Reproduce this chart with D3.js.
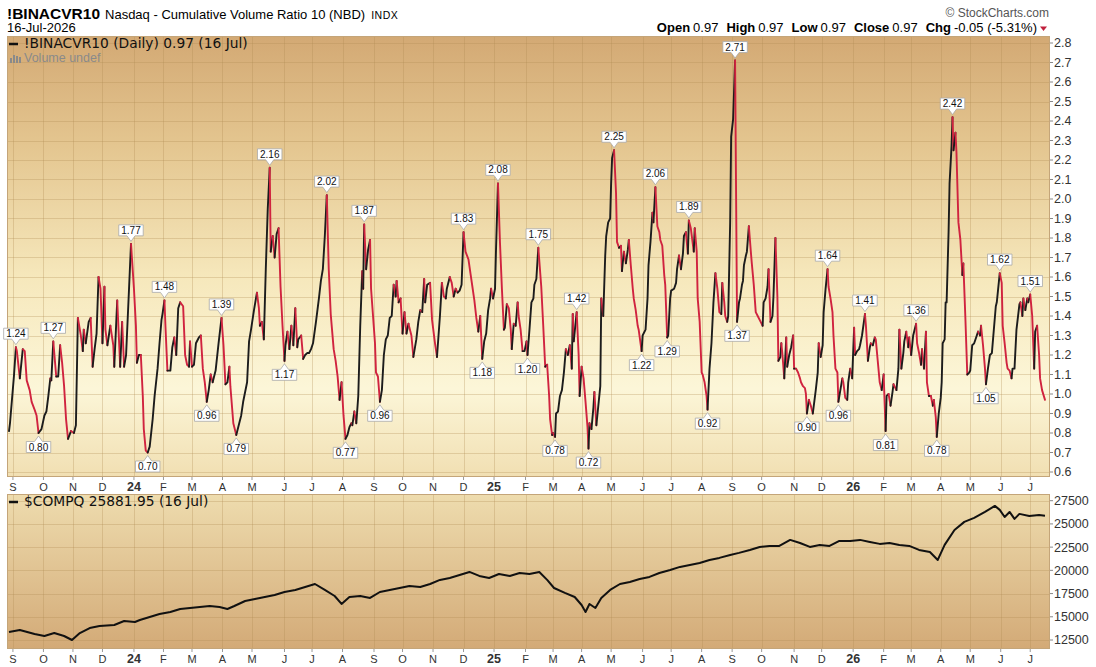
<!DOCTYPE html>
<html>
<head>
<meta charset="utf-8">
<script src="https://cdn.jsdelivr.net/npm/d3@7"></script>
<style>
  body { margin: 0; background: #fff; }
  svg { display: block; font-family: "Liberation Sans", Arial, sans-serif; }
</style>
</head>
<body>
<svg id="chart" width="1096" height="667"></svg>
<script>
// !BINACVR10 daily closes
var cvrSeries = [
  ["2023-08-28",0.81],["2023-08-29",0.85],["2023-09-02",1.09],["2023-09-04",1.24],["2023-09-05",1.22],
  ["2023-09-08",1.08],["2023-09-11",1.23],["2023-09-13",1.22],["2023-09-15",1.07],["2023-09-18",1.02],
  ["2023-09-20",0.96],["2023-09-23",0.92],["2023-09-25",0.89],["2023-09-27",0.80],["2023-09-30",0.82],
  ["2023-10-03",0.89],["2023-10-05",0.91],["2023-10-07",0.99],["2023-10-09",1.08],["2023-10-10",1.07],
  ["2023-10-12",1.27],["2023-10-15",1.09],["2023-10-17",1.09],["2023-10-19",1.25],["2023-10-21",1.16],
  ["2023-10-23",1.04],["2023-10-25",0.87],["2023-10-27",0.77],["2023-10-30",0.81],["2023-11-02",0.80],
  ["2023-11-04",0.84],["2023-11-06",1.39],["2023-11-09",1.30],["2023-11-11",1.22],["2023-11-12",1.33],
  ["2023-11-14",1.26],["2023-11-17",1.37],["2023-11-19",1.39],["2023-11-21",1.14],["2023-11-23",1.23],
  ["2023-11-25",1.31],["2023-11-27",1.60],["2023-11-29",1.54],["2023-12-01",1.26],["2023-12-03",1.55],
  ["2023-12-04",1.33],["2023-12-06",1.25],["2023-12-09",1.35],["2023-12-12",1.25],["2023-12-13",1.14],
  ["2023-12-16",1.48],["2023-12-19",1.14],["2023-12-21",1.37],["2023-12-23",1.14],["2023-12-25",1.20],
  ["2023-12-28",1.54],["2023-12-30",1.77],["2024-01-02",1.54],["2024-01-04",1.35],["2024-01-05",1.16],
  ["2024-01-07",1.20],["2024-01-09",1.20],["2024-01-11",0.99],["2024-01-12",0.82],["2024-01-14",0.71],
  ["2024-01-16",0.70],["2024-01-18",0.73],["2024-01-21",0.87],["2024-01-23",0.99],["2024-01-26",1.13],
  ["2024-01-28",1.26],["2024-01-30",1.38],["2024-01-31",1.41],["2024-02-02",1.48],["2024-02-03",1.35],
  ["2024-02-05",1.12],["2024-02-08",1.12],["2024-02-10",1.24],["2024-02-12",1.29],["2024-02-14",1.20],
  ["2024-02-16",1.44],["2024-02-18",1.47],["2024-02-21",1.45],["2024-02-23",1.20],["2024-02-25",1.15],
  ["2024-02-27",1.14],["2024-02-28",1.27],["2024-03-01",1.14],["2024-03-03",1.15],["2024-03-05",1.26],
  ["2024-03-08",1.29],["2024-03-10",1.30],["2024-03-12",1.13],["2024-03-14",1.06],["2024-03-16",0.96],
  ["2024-03-18",1.02],["2024-03-20",1.10],["2024-03-22",1.06],["2024-03-25",1.12],["2024-03-28",1.26],
  ["2024-03-31",1.39],["2024-04-02",1.25],["2024-04-04",1.05],["2024-04-06",1.06],["2024-04-08",1.14],
  ["2024-04-09",1.04],["2024-04-12",0.85],["2024-04-15",0.79],["2024-04-18",0.85],["2024-04-20",0.89],
  ["2024-04-22",0.96],["2024-04-24",1.01],["2024-04-26",1.06],["2024-04-28",1.27],["2024-04-30",1.33],
  ["2024-05-03",1.43],["2024-05-06",1.52],["2024-05-08",1.44],["2024-05-09",1.35],["2024-05-11",1.37],
  ["2024-05-13",1.28],["2024-05-15",1.64],["2024-05-17",1.95],["2024-05-19",2.16],["2024-05-20",1.73],
  ["2024-05-22",1.81],["2024-05-24",1.70],["2024-05-26",1.82],["2024-05-28",1.85],["2024-05-30",1.55],
  ["2024-06-01",1.35],["2024-06-03",1.17],["2024-06-04",1.25],["2024-06-06",1.32],["2024-06-08",1.23],
  ["2024-06-10",1.35],["2024-06-12",1.25],["2024-06-14",1.44],["2024-06-16",1.24],["2024-06-17",1.28],
  ["2024-06-20",1.30],["2024-06-22",1.18],["2024-06-24",1.20],["2024-06-26",1.21],["2024-06-28",1.21],
  ["2024-06-30",1.23],["2024-07-02",1.26],["2024-07-05",1.37],["2024-07-08",1.49],["2024-07-10",1.58],
  ["2024-07-12",1.64],["2024-07-14",1.81],["2024-07-16",2.02],["2024-07-18",1.64],["2024-07-20",1.41],
  ["2024-07-23",1.23],["2024-07-25",1.17],["2024-07-27",1.09],["2024-07-29",0.97],["2024-07-31",1.06],
  ["2024-08-02",0.89],["2024-08-04",0.77],["2024-08-06",0.79],["2024-08-08",0.83],["2024-08-10",0.85],
  ["2024-08-11",0.84],["2024-08-13",0.91],["2024-08-15",0.85],["2024-08-17",0.99],["2024-08-19",1.35],
  ["2024-08-21",1.63],["2024-08-22",1.54],["2024-08-23",1.87],["2024-08-25",1.64],["2024-08-27",1.74],
  ["2024-08-29",1.79],["2024-08-30",1.54],["2024-09-01",1.40],["2024-09-03",1.26],["2024-09-04",1.11],
  ["2024-09-06",1.09],["2024-09-08",0.96],["2024-09-10",1.02],["2024-09-12",1.20],["2024-09-14",1.28],
  ["2024-09-16",1.30],["2024-09-18",1.39],["2024-09-20",1.40],["2024-09-22",1.56],["2024-09-24",1.50],
  ["2024-09-25",1.58],["2024-09-27",1.47],["2024-09-29",1.49],["2024-10-01",1.31],["2024-10-03",1.42],
  ["2024-10-05",1.31],["2024-10-07",1.36],["2024-10-10",1.30],["2024-10-12",1.19],["2024-10-15",1.28],
  ["2024-10-17",1.37],["2024-10-19",1.43],["2024-10-21",1.42],["2024-10-23",1.59],["2024-10-24",1.47],
  ["2024-10-26",1.56],["2024-10-29",1.57],["2024-10-31",1.38],["2024-11-03",1.26],["2024-11-05",1.19],
  ["2024-11-08",1.40],["2024-11-10",1.57],["2024-11-12",1.50],["2024-11-14",1.49],["2024-11-15",1.54],
  ["2024-11-18",1.60],["2024-11-20",1.57],["2024-11-22",1.50],["2024-11-24",1.54],["2024-11-26",1.52],
  ["2024-11-28",1.53],["2024-11-30",1.56],["2024-12-02",1.83],["2024-12-04",1.73],["2024-12-07",1.69],
  ["2024-12-09",1.62],["2024-12-11",1.55],["2024-12-13",1.48],["2024-12-15",1.39],["2024-12-17",1.32],
  ["2024-12-19",1.40],["2024-12-21",1.18],["2024-12-23",1.27],["2024-12-25",1.31],["2024-12-27",1.43],
  ["2024-12-29",1.49],["2024-12-30",1.54],["2025-01-01",1.49],["2025-01-03",1.54],["2025-01-04",1.74],
  ["2025-01-06",2.08],["2025-01-08",1.78],["2025-01-10",1.54],["2025-01-12",1.33],["2025-01-13",1.34],
  ["2025-01-15",1.46],["2025-01-17",1.44],["2025-01-19",1.33],["2025-01-20",1.23],["2025-01-22",1.36],
  ["2025-01-24",1.35],["2025-01-26",1.47],["2025-01-27",1.40],["2025-01-29",1.33],["2025-01-31",1.22],
  ["2025-02-02",1.22],["2025-02-04",1.27],["2025-02-05",1.20],["2025-02-07",1.33],["2025-02-09",1.47],
  ["2025-02-11",1.49],["2025-02-12",1.56],["2025-02-14",1.59],["2025-02-16",1.75],["2025-02-19",1.55],
  ["2025-02-21",1.35],["2025-02-23",1.14],["2025-02-25",1.15],["2025-02-27",0.99],["2025-02-28",0.87],
  ["2025-03-02",0.79],["2025-03-03",0.80],["2025-03-05",0.78],["2025-03-06",0.90],["2025-03-08",0.91],
  ["2025-03-10",0.99],["2025-03-12",1.02],["2025-03-14",1.11],["2025-03-16",1.23],["2025-03-18",1.20],
  ["2025-03-20",1.25],["2025-03-22",1.13],["2025-03-23",1.41],["2025-03-24",1.27],["2025-03-27",1.42],
  ["2025-03-29",1.20],["2025-03-30",0.99],["2025-04-01",1.14],["2025-04-03",1.08],["2025-04-05",0.96],
  ["2025-04-07",0.83],["2025-04-08",0.72],["2025-04-09",0.85],["2025-04-11",0.82],["2025-04-13",0.93],
  ["2025-04-14",1.01],["2025-04-16",0.84],["2025-04-18",0.94],["2025-04-20",1.04],["2025-04-21",1.49],
  ["2025-04-23",1.40],["2025-04-25",1.71],["2025-04-26",1.81],["2025-04-28",1.88],["2025-04-30",1.90],
  ["2025-05-01",2.08],["2025-05-02",2.21],["2025-05-04",2.25],["2025-05-06",2.03],["2025-05-07",1.78],
  ["2025-05-09",1.75],["2025-05-11",1.76],["2025-05-12",1.63],["2025-05-14",1.73],["2025-05-16",1.67],
  ["2025-05-18",1.74],["2025-05-19",1.79],["2025-05-21",1.66],["2025-05-23",1.54],["2025-05-24",1.49],
  ["2025-05-26",1.43],["2025-05-28",1.35],["2025-05-29",1.33],["2025-06-01",1.22],["2025-06-02",1.30],
  ["2025-06-05",1.33],["2025-06-07",1.49],["2025-06-08",1.66],["2025-06-10",1.78],["2025-06-12",1.93],
  ["2025-06-13",1.88],["2025-06-15",2.06],["2025-06-17",1.86],["2025-06-19",1.83],["2025-06-20",1.79],
  ["2025-06-22",1.76],["2025-06-24",1.61],["2025-06-25",1.56],["2025-06-27",1.29],["2025-06-28",1.30],
  ["2025-06-30",1.49],["2025-07-01",1.53],["2025-07-04",1.54],["2025-07-06",1.57],["2025-07-07",1.64],
  ["2025-07-09",1.71],["2025-07-11",1.64],["2025-07-13",1.72],["2025-07-14",1.81],["2025-07-16",1.83],
  ["2025-07-18",1.72],["2025-07-19",1.89],["2025-07-21",1.85],["2025-07-22",1.81],["2025-07-24",1.73],
  ["2025-07-25",1.85],["2025-07-27",1.73],["2025-07-28",1.49],["2025-07-30",1.37],["2025-08-01",1.11],
  ["2025-08-02",1.10],["2025-08-04",1.06],["2025-08-06",0.99],["2025-08-07",0.92],["2025-08-09",1.13],
  ["2025-08-11",1.26],["2025-08-13",1.47],["2025-08-15",1.62],["2025-08-17",1.54],["2025-08-19",1.42],
  ["2025-08-21",1.41],["2025-08-22",1.57],["2025-08-24",1.47],["2025-08-25",1.40],["2025-08-27",1.37],
  ["2025-08-28",1.40],["2025-08-30",1.88],["2025-08-31",2.32],["2025-09-02",2.41],["2025-09-03",2.56],
  ["2025-09-04",2.71],["2025-09-06",1.37],["2025-09-08",1.47],["2025-09-09",1.49],["2025-09-11",1.56],
  ["2025-09-12",1.58],["2025-09-13",1.66],["2025-09-15",1.71],["2025-09-16",1.73],["2025-09-18",1.86],
  ["2025-09-20",1.73],["2025-09-21",1.67],["2025-09-23",1.56],["2025-09-25",1.42],["2025-09-27",1.40],
  ["2025-09-30",1.37],["2025-10-02",1.35],["2025-10-03",1.47],["2025-10-05",1.49],["2025-10-07",1.55],
  ["2025-10-08",1.64],["2025-10-10",1.37],["2025-10-12",1.40],["2025-10-13",1.50],["2025-10-15",1.80],
  ["2025-10-17",1.50],["2025-10-18",1.17],["2025-10-20",1.19],["2025-10-21",1.26],["2025-10-22",1.21],
  ["2025-10-24",1.08],["2025-10-26",1.29],["2025-10-27",1.14],["2025-10-29",1.20],["2025-10-31",1.24],
  ["2025-11-02",1.30],["2025-11-03",1.13],["2025-11-05",1.13],["2025-11-07",1.11],["2025-11-09",1.08],
  ["2025-11-10",1.06],["2025-11-12",1.04],["2025-11-14",1.03],["2025-11-15",1.00],["2025-11-16",0.90],
  ["2025-11-18",0.97],["2025-11-20",0.94],["2025-11-22",0.90],["2025-11-23",0.94],["2025-11-25",1.02],
  ["2025-11-27",1.11],["2025-11-28",1.26],["2025-11-30",1.19],["2025-12-02",1.25],["2025-12-03",1.42],
  ["2025-12-05",1.54],["2025-12-07",1.64],["2025-12-08",1.55],["2025-12-10",1.49],["2025-12-12",1.42],
  ["2025-12-13",1.30],["2025-12-15",1.13],["2025-12-17",1.11],["2025-12-18",0.96],["2025-12-20",1.02],
  ["2025-12-22",1.08],["2025-12-23",1.06],["2025-12-25",0.98],["2025-12-27",0.97],["2025-12-28",1.06],
  ["2025-12-30",1.13],["2026-01-01",1.08],["2026-01-03",1.34],["2026-01-04",1.20],["2026-01-06",1.22],
  ["2026-01-08",1.23],["2026-01-09",1.25],["2026-01-11",1.30],["2026-01-14",1.41],["2026-01-15",1.35],
  ["2026-01-17",1.17],["2026-01-19",1.24],["2026-01-20",1.26],["2026-01-22",1.25],["2026-01-24",1.29],
  ["2026-01-25",1.28],["2026-01-27",1.17],["2026-01-29",1.06],["2026-01-31",1.02],["2026-02-02",1.10],
  ["2026-02-04",0.81],["2026-02-05",0.99],["2026-02-07",1.00],["2026-02-09",0.94],["2026-02-11",1.01],
  ["2026-02-12",1.05],["2026-02-15",1.02],["2026-02-17",1.13],["2026-02-18",1.33],["2026-02-20",1.13],
  ["2026-02-22",1.21],["2026-02-23",1.27],["2026-02-25",1.32],["2026-02-27",1.24],["2026-02-28",1.29],
  ["2026-03-02",1.20],["2026-03-04",1.30],["2026-03-07",1.36],["2026-03-08",1.26],["2026-03-10",1.21],
  ["2026-03-12",1.15],["2026-03-13",1.23],["2026-03-15",1.13],["2026-03-17",1.32],["2026-03-18",1.06],
  ["2026-03-20",0.99],["2026-03-22",0.99],["2026-03-24",0.94],["2026-03-25",0.97],["2026-03-27",0.88],
  ["2026-03-28",0.78],["2026-03-30",0.90],["2026-04-01",0.98],["2026-04-02",1.06],["2026-04-03",1.26],
  ["2026-04-05",1.28],["2026-04-06",1.47],["2026-04-07",1.47],["2026-04-09",1.83],["2026-04-10",2.08],
  ["2026-04-12",2.27],["2026-04-13",2.42],["2026-04-14",2.25],["2026-04-16",2.34],["2026-04-17",2.24],
  ["2026-04-19",1.88],["2026-04-21",1.79],["2026-04-23",1.61],["2026-04-24",1.67],["2026-04-26",1.40],
  ["2026-04-28",1.10],["2026-04-30",1.11],["2026-05-01",1.12],["2026-05-03",1.25],["2026-05-05",1.26],
  ["2026-05-07",1.29],["2026-05-09",1.32],["2026-05-11",1.30],["2026-05-12",1.35],["2026-05-14",1.25],
  ["2026-05-16",1.13],["2026-05-17",1.05],["2026-05-19",1.13],["2026-05-21",1.20],["2026-05-23",1.21],
  ["2026-05-25",1.33],["2026-05-27",1.45],["2026-05-28",1.47],["2026-05-30",1.57],["2026-05-31",1.62],
  ["2026-06-02",1.57],["2026-06-03",1.35],["2026-06-05",1.26],["2026-06-07",1.16],["2026-06-08",1.13],
  ["2026-06-10",1.12],["2026-06-12",1.08],["2026-06-13",1.13],["2026-06-15",1.13],["2026-06-17",1.33],
  ["2026-06-20",1.46],["2026-06-21",1.47],["2026-06-23",1.40],["2026-06-24",1.49],["2026-06-26",1.43],
  ["2026-06-28",1.49],["2026-06-29",1.47],["2026-07-01",1.51],["2026-07-03",1.40],["2026-07-05",1.13],
  ["2026-07-06",1.32],["2026-07-08",1.35],["2026-07-10",1.20],["2026-07-11",1.08],["2026-07-13",1.02],
  ["2026-07-16",0.97]
];

// highs / lows annotated on the chart
var cvrLabels = [
  ["2023-09-04",1.24,"hi"],["2023-09-27",0.80,"lo"],["2023-10-12",1.27,"hi"],["2023-12-30",1.77,"hi"],
  ["2024-01-16",0.70,"lo"],["2024-02-02",1.48,"hi"],["2024-03-16",0.96,"lo"],["2024-03-31",1.39,"hi"],
  ["2024-04-15",0.79,"lo"],["2024-05-19",2.16,"hi"],["2024-06-03",1.17,"lo"],["2024-07-16",2.02,"hi"],
  ["2024-08-04",0.77,"lo"],["2024-08-23",1.87,"hi"],["2024-09-08",0.96,"lo"],["2024-12-02",1.83,"hi"],
  ["2024-12-21",1.18,"lo"],["2025-01-06",2.08,"hi"],["2025-02-05",1.20,"lo"],["2025-02-16",1.75,"hi"],
  ["2025-03-05",0.78,"lo"],["2025-03-27",1.42,"hi"],["2025-04-08",0.72,"lo"],["2025-05-04",2.25,"hi"],
  ["2025-06-01",1.22,"lo"],["2025-06-15",2.06,"hi"],["2025-06-27",1.29,"lo"],["2025-07-19",1.89,"hi"],
  ["2025-08-07",0.92,"lo"],["2025-09-04",2.71,"hi"],["2025-09-06",1.37,"lo"],["2025-11-16",0.90,"lo"],
  ["2025-12-07",1.64,"hi"],["2025-12-18",0.96,"lo"],["2026-01-14",1.41,"hi"],["2026-02-04",0.81,"lo"],
  ["2026-03-07",1.36,"hi"],["2026-03-28",0.78,"lo"],["2026-04-13",2.42,"hi"],["2026-05-17",1.05,"lo"],
  ["2026-05-31",1.62,"hi"],["2026-07-01",1.51,"hi"]
];

// $COMPQ closes
var compSeries = [
  ["2023-08-28",13360],["2023-09-08",13580],["2023-09-23",13150],["2023-10-03",12930],["2023-10-13",13250],
  ["2023-10-23",12930],["2023-10-31",12500],["2023-11-08",13250],["2023-11-18",13790],["2023-11-28",14010],
  ["2023-12-13",14120],["2023-12-23",14550],["2024-01-03",14440],["2024-01-08",14650],["2024-01-18",14980],
  ["2024-01-28",15300],["2024-02-08",15520],["2024-02-18",15840],["2024-02-28",15950],["2024-03-09",16060],
  ["2024-03-19",16160],["2024-03-29",16060],["2024-04-06",15840],["2024-04-13",16160],["2024-04-24",16700],
  ["2024-05-04",16920],["2024-05-14",17130],["2024-05-24",17350],["2024-06-03",17670],["2024-06-14",17890],
  ["2024-06-24",18210],["2024-07-04",18530],["2024-07-14",17890],["2024-07-24",17240],["2024-07-31",16380],
  ["2024-08-08",17130],["2024-08-19",17240],["2024-08-29",17030],["2024-09-08",17670],["2024-09-18",17890],
  ["2024-09-28",18100],["2024-10-08",18320],["2024-10-19",18210],["2024-10-29",18530],["2024-11-08",18970],
  ["2024-11-18",19180],["2024-11-28",19500],["2024-12-08",19830],["2024-12-18",19400],["2024-12-28",19180],
  ["2025-01-07",19610],["2025-01-18",19400],["2025-01-28",19720],["2025-02-07",19610],["2025-02-17",19830],
  ["2025-02-25",18970],["2025-03-04",18100],["2025-03-15",17570],["2025-03-25",17130],["2025-04-01",16270],
  ["2025-04-05",15520],["2025-04-09",16380],["2025-04-15",15950],["2025-04-21",17030],["2025-04-30",17890],
  ["2025-05-10",18530],["2025-05-20",18750],["2025-05-30",19070],["2025-06-09",19290],["2025-06-19",19720],
  ["2025-06-30",20040],["2025-07-10",20370],["2025-07-20",20580],["2025-07-30",20800],["2025-08-09",21120],
  ["2025-08-19",21340],["2025-08-30",21660],["2025-09-08",21880],["2025-09-19",22200],["2025-09-29",22520],
  ["2025-10-09",22630],["2025-10-19",22630],["2025-10-30",23280],["2025-11-09",22950],["2025-11-19",22520],
  ["2025-11-29",22740],["2025-12-09",22630],["2025-12-19",23170],["2025-12-30",23170],["2026-01-09",23280],
  ["2026-01-19",23060],["2026-01-29",22850],["2026-02-08",22950],["2026-02-18",22740],["2026-02-28",22630],
  ["2026-03-10",22200],["2026-03-21",21980],["2026-03-29",21120],["2026-04-05",22740],["2026-04-15",24350],
  ["2026-04-25",25220],["2026-05-05",25650],["2026-05-16",26290],["2026-05-26",26940],["2026-05-31",26510],
  ["2026-06-05",25750],["2026-06-10",26290],["2026-06-15",25540],["2026-06-20",26080],["2026-06-30",25860],
  ["2026-07-10",25970],["2026-07-16",25882]
];

var cvrTicks = [0.6,0.7,0.8,0.9,1.0,1.1,1.2,1.3,1.4,1.5,1.6,1.7,1.8,1.9,2.0,2.1,2.2,2.3,2.4,2.5,2.6,2.7,2.8];
var compTicks = [12500,15000,17500,20000,22500,25000,27500];
var monthLetters = ["J","F","M","A","M","J","J","A","S","O","N","D"];

var parse = d3.timeParse("%Y-%m-%d");
var cvr = cvrSeries.map(function(d){ return {date: parse(d[0]), v: d[1]}; });
var comp = compSeries.map(function(d){ return {date: parse(d[0]), v: d[1]}; });

var svg = d3.select("#chart");
var left = 7, right = 1050;
var top1 = 36, bot1 = 477, top2 = 494, bot2 = 649;

var x = d3.scaleTime().domain([parse("2023-08-28"), parse("2026-07-16")]).range([9, 1045]);
var y1 = d3.scaleLinear().domain([0.6, 2.8]).range([472, 43]);
var y2 = d3.scaleLinear().domain([12500, 27500]).range([640, 500.7]);

// gradients
var defs = svg.append("defs");
var g1 = defs.append("linearGradient").attr("id","bg1").attr("x1",0).attr("y1",0).attr("x2",0).attr("y2",1);
[[0,"#d3a974"],[0.25,"#e4c690"],[0.55,"#f6e8bc"],[0.8,"#fcf6d8"],[1,"#f1dfb2"]].forEach(function(s){
  g1.append("stop").attr("offset",s[0]).attr("stop-color",s[1]);
});
var g2 = defs.append("linearGradient").attr("id","bg2").attr("x1",0).attr("y1",0).attr("x2",0).attr("y2",1);
[[0,"#eedcae"],[1,"#d3aa77"]].forEach(function(s){
  g2.append("stop").attr("offset",s[0]).attr("stop-color",s[1]);
});
defs.append("clipPath").attr("id","clip1").append("rect")
  .attr("x",left).attr("y",top1).attr("width",right-left).attr("height",bot1-top1);
defs.append("clipPath").attr("id","clip2").append("rect")
  .attr("x",left).attr("y",top2).attr("width",right-left).attr("height",bot2-top2);

svg.append("rect").attr("x",left).attr("y",top1).attr("width",right-left).attr("height",bot1-top1)
  .attr("fill","url(#bg1)");
svg.append("rect").attr("x",left).attr("y",top2).attr("width",right-left).attr("height",bot2-top2)
  .attr("fill","url(#bg2)");

// month positions (first trading day)
function firstTradingDay(d) {
  var t = new Date(d.getTime());
  if (t.getMonth() === 0 && t.getDate() === 1) t.setDate(2);
  while (t.getDay() === 0 || t.getDay() === 6) t.setDate(t.getDate() + 1);
  return t;
}
var months = d3.timeMonth.range(parse("2023-09-01"), parse("2026-07-02")).map(function(m){
  return {m: m, d: firstTradingDay(m)};
});

var grid = svg.append("g").attr("stroke","#b08a52").attr("stroke-opacity",0.3).attr("stroke-width",1);
months.forEach(function(o){
  var gx = Math.round(x(o.d)) + 0.5;
  grid.append("line").attr("x1",gx).attr("x2",gx).attr("y1",top1).attr("y2",bot1);
  grid.append("line").attr("x1",gx).attr("x2",gx).attr("y1",top2).attr("y2",bot2);
});
cvrTicks.forEach(function(t){
  var gy = Math.round(y1(t)) + 0.5;
  grid.append("line").attr("x1",left).attr("x2",right).attr("y1",gy).attr("y2",gy);
});
compTicks.forEach(function(t){
  var gy = Math.round(y2(t)) + 0.5;
  grid.append("line").attr("x1",left).attr("x2",right).attr("y1",gy).attr("y2",gy);
});

// panel borders
svg.append("rect").attr("x",left+0.5).attr("y",top1+0.5).attr("width",right-left-1).attr("height",bot1-top1-1)
  .attr("fill","none").attr("stroke","#c4a579");
svg.append("rect").attr("x",left+0.5).attr("y",top2+0.5).attr("width",right-left-1).attr("height",bot2-top2-1)
  .attr("fill","none").attr("stroke","#c4a579");

// right axes
var axis1 = svg.append("g").attr("font-size","12.5px").attr("fill","#333");
cvrTicks.forEach(function(t){
  var ty = y1(t);
  axis1.append("line").attr("x1",right).attr("x2",right+3).attr("y1",ty).attr("y2",ty).attr("stroke","#888");
  axis1.append("text").attr("x",right+4).attr("y",ty).attr("dy","0.35em").text(d3.format(".1f")(t));
});
var axis2 = svg.append("g").attr("font-size","12.5px").attr("fill","#333");
compTicks.forEach(function(t){
  var ty = y2(t);
  axis2.append("line").attr("x1",right).attr("x2",right+3).attr("y1",ty).attr("y2",ty).attr("stroke","#888");
  axis2.append("text").attr("x",right+4).attr("y",ty).attr("dy","0.35em").text(t);
});

// month label rows
function monthRow(yBase, tickY) {
  var g = svg.append("g").attr("fill","#333").attr("text-anchor","middle");
  months.forEach(function(o){
    var mx = x(o.d);
    var isYear = o.m.getMonth() === 0;
    g.append("line").attr("x1",mx).attr("x2",mx).attr("y1",tickY).attr("y2",tickY+3)
      .attr("stroke","#999");
    g.append("text").attr("x",mx).attr("y",yBase)
      .attr("font-size", isYear ? "12.5px" : "11px")
      .attr("font-weight", isYear ? "bold" : "normal")
      .text(isYear ? d3.timeFormat("%y")(o.m) : monthLetters[o.m.getMonth()]);
  });
}
monthRow(491, bot1);
monthRow(663, bot2);

// CVR line, coloured by direction
var lineG = svg.append("g").attr("clip-path","url(#clip1)").attr("fill","none")
  .attr("stroke-width",1.9).attr("stroke-linejoin","round").attr("stroke-linecap","round");
var runs = [];
for (var i = 1; i < cvr.length; i++) {
  var up = cvr[i].v >= cvr[i-1].v;
  if (runs.length && runs[runs.length-1].up === up) runs[runs.length-1].pts.push(cvr[i]);
  else runs.push({up: up, pts: [cvr[i-1], cvr[i]]});
}
var line1 = d3.line().x(function(d){ return x(d.date); }).y(function(d){ return y1(d.v); });
runs.forEach(function(r){
  lineG.append("path").attr("d", line1(r.pts)).attr("stroke", r.up ? "#1c1c1c" : "#d0233f");
});

// annotations
var lab = svg.append("g").attr("font-size","10px").attr("fill","#111");
cvrLabels.forEach(function(l){
  var px = x(parse(l[0])), py = y1(l[1]);
  var g = lab.append("g");
  var t = g.append("text").attr("text-anchor","middle").attr("x",px).text(d3.format(".2f")(l[1]));
  var w = t.node().getComputedTextLength() + 5;
  var h = 11, tip, edge, far;
  if (l[2] === "hi") { tip = py - 2.5; edge = tip - 5.5; far = edge - h; }
  else { tip = py + 3; edge = tip + 5.5; far = edge + h; }
  var p = "M" + (px - w/2) + "," + far + "H" + (px + w/2) + "V" + edge + "H" + (px + 4) +
          "L" + px + "," + tip + "L" + (px - 4) + "," + edge + "H" + (px - w/2) + "Z";
  g.insert("path","text").attr("d",p).attr("fill","#fff").attr("stroke","#a9a9a9").attr("stroke-width",0.8);
  t.attr("y", (l[2] === "hi" ? far : edge) + 9);
});

// COMPQ line
var line2 = d3.line().x(function(d){ return x(d.date); }).y(function(d){ return y2(d.v); });
svg.append("g").attr("clip-path","url(#clip2)").append("path").attr("d", line2(comp))
  .attr("fill","none").attr("stroke","#111").attr("stroke-width",2).attr("stroke-linejoin","round");

// legends inside panels
svg.append("line").attr("x1",9).attr("x2",18).attr("y1",44).attr("y2",44).attr("stroke","#111").attr("stroke-width",2.5);
svg.append("text").attr("x",24).attr("y",48).attr("font-family","'DejaVu Sans', Verdana, sans-serif")
  .attr("font-size","13.8px").attr("fill","#111").text("!BINACVR10 (Daily) 0.97 (16 Jul)");
var vic = svg.append("g").attr("fill","#8a8a8a");
[[10,58,2,5],[13,55,2,8],[16,56,2,7],[19,57,2,6]].forEach(function(b){
  vic.append("rect").attr("x",b[0]).attr("y",b[1]).attr("width",b[2]).attr("height",b[3]);
});
svg.append("text").attr("x",24).attr("y",62).attr("font-size","12.5px").attr("fill","#8a8a8a").text("Volume undef");

svg.append("line").attr("x1",9).attr("x2",18).attr("y1",502).attr("y2",502).attr("stroke","#111").attr("stroke-width",2.5);
svg.append("text").attr("x",24).attr("y",506).attr("font-family","'DejaVu Sans', Verdana, sans-serif")
  .attr("font-size","13.8px").attr("fill","#111").text("$COMPQ 25881.95 (16 Jul)");

// header
var hdr = svg.append("text").attr("x",7).attr("y",19).attr("fill","#000");
hdr.append("tspan").attr("font-weight","bold").attr("font-size","15.5px").text("!BINACVR10");
hdr.append("tspan").attr("dx",5).attr("font-size","13px").text("Nasdaq - Cumulative Volume Ratio 10 (NBD)");
hdr.append("tspan").attr("dx",6).attr("font-size","10.5px").attr("letter-spacing","0.5px").text("INDX");
svg.append("text").attr("x",7).attr("y",32).attr("font-size","13px").attr("fill","#000").text("16-Jul-2026");

svg.append("text").attr("x",1049).attr("y",17).attr("text-anchor","end").attr("font-size","12px")
  .attr("fill","#555").text("\u00a9 StockCharts.com");

var ohlc = [["Open","0.97"],["High","0.97"],["Low","0.97"],["Close","0.97"],["Chg","-0.05 (-5.31%)"]];
var oh = svg.append("text").attr("x",1037).attr("y",32).attr("text-anchor","end").attr("font-size","13px").attr("fill","#000");
ohlc.forEach(function(o, k){
  oh.append("tspan").attr("font-weight","bold").attr("dx", k ? 8 : 0).text(o[0]);
  oh.append("tspan").attr("dx",3).text(o[1]);
});
svg.append("path").attr("d","M1040,26.5 L1047,26.5 L1043.5,31 Z").attr("fill","#c0203c");
</script>
</body>
</html>
